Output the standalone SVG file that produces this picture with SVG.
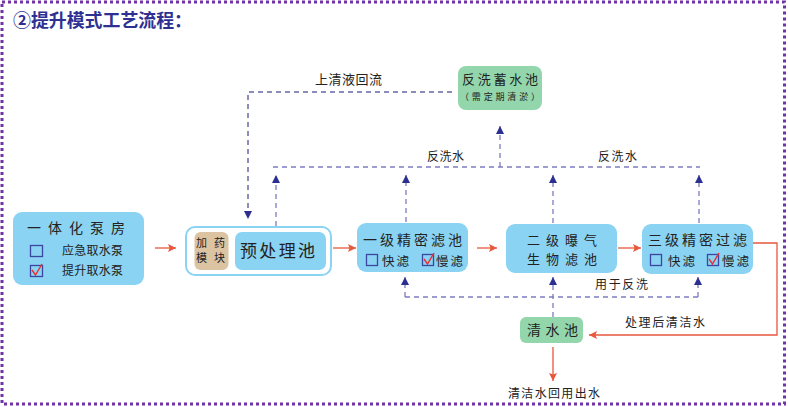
<svg xmlns="http://www.w3.org/2000/svg" width="788" height="407" viewBox="0 0 788 407">
<defs>
<style>
text{font-family:"Noto Sans CJK SC","Noto Sans",sans-serif;fill:#222;}
.title{font-size:18px;font-weight:bold;fill:#2e3192;}
.node{fill:#8ad3f2;}
.green{fill:#93d6ac;}
.t14{font-size:14px;}
.t12{font-size:12px;}
.t11{font-size:11px;}
.t13{font-size:13px;}
.opt{font-size:12.5px;}
.cb{fill:none;stroke:#3a46a0;stroke-width:1.3;}
.ck{fill:none;stroke:#e83030;stroke-width:1.4;}
.dash{fill:none;stroke:#7c7cc0;stroke-width:1.3;stroke-dasharray:5 4;}
.dash2{fill:none;stroke:#6868a8;stroke-width:1.5;stroke-dasharray:5 4;}
.red{fill:none;stroke:#e8573c;stroke-width:1.3;}
</style>
<marker id="ah" viewBox="0 0 10 10" refX="10" refY="5" markerWidth="8" markerHeight="8" markerUnits="userSpaceOnUse" orient="auto">
<path d="M0,0 L10,5 L0,10 Z" fill="#2b2f8f"/>
</marker>
<marker id="ar" viewBox="0 0 10 10" refX="10" refY="5" markerWidth="8" markerHeight="8" markerUnits="userSpaceOnUse" orient="auto">
<path d="M0,0 L10,5 L0,10 L2,5 Z" fill="#e8573c"/>
</marker>
</defs>
<rect width="788" height="407" fill="#fff"/>
<rect x="2" y="2" width="782.5" height="402" fill="none" stroke="#7232a8" stroke-width="3" stroke-dasharray="3 3"/>
<text class="title" x="13" y="27" textLength="179" lengthAdjust="spacingAndGlyphs">②提升模式工艺流程：</text>

<g id="connectors">
<path class="dash2" d="M452 92 H248 V219" marker-end="url(#ah)"/>
<path class="dash" d="M273 167 H700"/>
<path class="dash" d="M500 167 V126" marker-end="url(#ah)"/>
<path class="dash" d="M276 226 V175" marker-end="url(#ah)"/>
<path class="dash" d="M406 222 V175" marker-end="url(#ah)"/>
<path class="dash" d="M553 223 V175" marker-end="url(#ah)"/>
<path class="dash" d="M699 223 V175" marker-end="url(#ah)"/>
<path class="dash" d="M553 317 V277" marker-end="url(#ah)"/>
<path class="dash" d="M405 297 H698"/>
<path class="dash" d="M405 297 V277" marker-end="url(#ah)"/>
<path class="dash" d="M698 297 V277" marker-end="url(#ah)"/>
<path class="red" d="M155 248 H176" marker-end="url(#ar)"/>
<path class="red" d="M333 248 H356" marker-end="url(#ar)"/>
<path class="red" d="M477 248 H497" marker-end="url(#ar)"/>
<path class="red" d="M618 248 H641" marker-end="url(#ar)"/>
<path class="red" d="M753 243 H777 V335 H589" marker-end="url(#ar)"/>
<path class="red" d="M553 347 V381" marker-end="url(#ar)"/>
<text class="t13" x="315" y="84" textLength="67">上清液回流</text>
<text class="t12" x="427" y="161" textLength="37">反洗水</text>
<text class="t12" x="598" y="161" textLength="39">反洗水</text>
<text class="t12" x="595" y="289" textLength="53">用于反洗</text>
<text class="t12" x="625" y="327" textLength="80">处理后清洁水</text>
<text class="t12" x="508" y="398" textLength="92">清洁水回用出水</text>
</g>

<g id="pump">
<rect class="node" x="13" y="212" width="131" height="73" rx="9"/>
<text class="t14" x="27" y="233" textLength="98">一体化泵房</text>
<rect class="cb" x="30.5" y="245.5" width="12" height="11"/>
<text class="t12" x="62" y="255" textLength="61">应急取水泵</text>
<rect class="cb" x="30.5" y="265.5" width="12" height="11"/>
<polyline class="ck" points="32,270 35.5,275 42,264"/>
<text class="t12" x="62" y="275" textLength="61">提升取水泵</text>
</g>

<g id="pretreat">
<rect x="186" y="227" width="145" height="48" rx="9" fill="#fff" stroke="#8ad3f2" stroke-width="2"/>
<rect x="194.5" y="232" width="34" height="38" rx="6" fill="#dcc3a2"/>
<text class="t11" x="196" y="247" textLength="29">加药</text>
<text class="t11" x="196" y="262" textLength="29">模块</text>
<rect class="node" x="235" y="232" width="91" height="38" rx="7"/>
<text x="240" y="257" font-size="17" textLength="75">预处理池</text>
</g>

<g id="filter1">
<rect class="node" x="357" y="223" width="111" height="49" rx="9"/>
<text class="t14" x="363" y="245" textLength="99">一级精密滤池</text>
<rect class="cb" x="366.5" y="254.5" width="11" height="11"/>
<text class="opt" x="382" y="266" textLength="27">快滤</text>
<rect class="cb" x="422.5" y="254.5" width="11" height="11"/>
<polyline class="ck" points="424,259 427.5,264 434,253"/>
<text class="opt" x="436" y="266" textLength="27">慢滤</text>
</g>

<g id="biofilter">
<rect class="node" x="506" y="224" width="111" height="49" rx="9"/>
<text x="527" y="245" font-size="13" textLength="70">二级曝气</text>
<text x="527" y="264" font-size="13" textLength="70">生物滤池</text>
</g>

<g id="filter3">
<rect class="node" x="642" y="224" width="111" height="50" rx="9"/>
<text class="t14" x="648" y="245" textLength="99">三级精密过滤</text>
<rect class="cb" x="650.5" y="254.5" width="11" height="11"/>
<text class="opt" x="668" y="266" textLength="27">快滤</text>
<rect class="cb" x="707.5" y="254.5" width="11" height="11"/>
<polyline class="ck" points="709,259 712.5,264 719,253"/>
<text class="opt" x="722" y="266" textLength="27">慢滤</text>
</g>

<g id="backwash-tank">
<rect class="green" x="458" y="66" width="84" height="44" rx="8"/>
<text class="t13" x="462" y="84" textLength="76">反洗蓄水池</text>
<text x="460" y="100" font-size="9" textLength="80">（需定期清淤）</text>
</g>

<g id="clear-tank">
<rect class="green" x="520" y="317" width="63" height="26" rx="6"/>
<text class="t14" x="527" y="335" textLength="51">清水池</text>
</g>
</svg>
